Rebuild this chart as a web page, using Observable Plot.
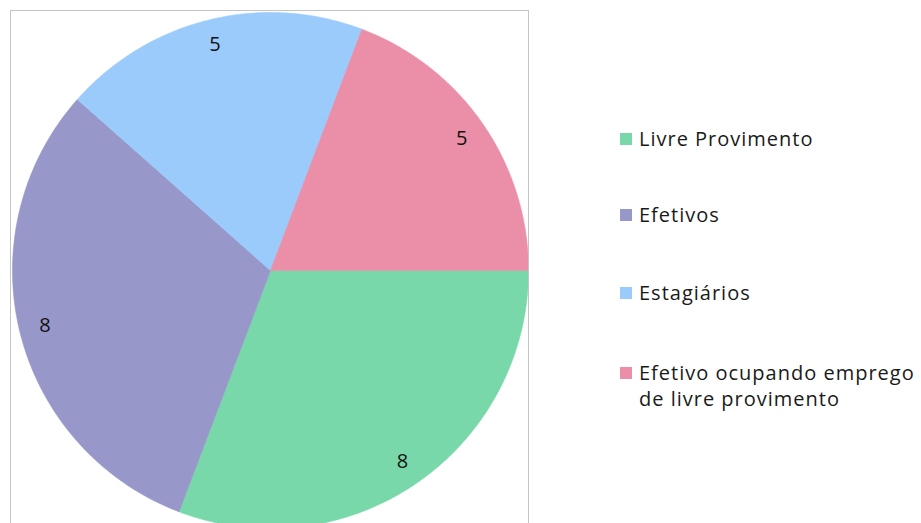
<!DOCTYPE html>
<html>
<head>
<meta charset="utf-8">
<script src="https://cdn.jsdelivr.net/npm/d3@7"></script>
<script src="https://cdn.jsdelivr.net/npm/@observablehq/plot@0.6"></script>
<style>
  html, body { margin: 0; padding: 0; background: #fff; width: 921px; height: 523px; overflow: hidden; }
  #wrap { position: relative; width: 921px; height: 523px; font-family: "Open Sans", sans-serif; }
  #frame { position: absolute; left: 10px; top: 10px; width: 519px; height: 540px; border: 1px solid #c4c4c4; box-sizing: border-box; pointer-events: none; }
  #legend { position: absolute; left: 0; top: 0; }
  .item { position: absolute; left: 620px; display: flex; align-items: flex-start; font-size: 20px; letter-spacing: 1px; color: #1a1a1a; line-height: 26px; white-space: nowrap; }
  .sw { width: 12px; height: 12px; margin-top: 7px; margin-right: 7px; flex: none; }
</style>
</head>
<body>
<div id="wrap"><div id="chart"></div><div id="frame"></div><div id="legend"></div></div>
<script>
// ---- data ----
const categories = ["Livre Provimento", "Efetivos", "Estagiários", "Efetivo ocupando emprego de livre provimento"];
const legendLines = [["Livre Provimento"], ["Efetivos"], ["Estagiários"], ["Efetivo ocupando emprego", "de livre provimento"]];
const values = [8, 8, 5, 5];
const colors = ["#78d8a9", "#9797c9", "#9bcbfb", "#eb8ea7"];

// ---- layout ----
const W = 540, H = 523, CX = 270, CY = 270, R = 258;
const legendTop = [126, 202, 280, 360];

const slices = d3.pie().sort(null).value(d => d.value)
  .startAngle(Math.PI / 2).endAngle(Math.PI / 2 + 2 * Math.PI)
  (categories.map((c, i) => ({cat: c, value: values[i]})));

const rows = [];
for (const s of slices) {
  const n = 120;
  rows.push({cat: s.data.cat, x: 0, y: 0});
  for (let k = 0; k <= n; k++) {
    const a = s.startAngle + (s.endAngle - s.startAngle) * k / n;
    rows.push({cat: s.data.cat, x: Math.sin(a), y: Math.cos(a)});
  }
  rows.push({cat: s.data.cat, x: 0, y: 0});
}
const labels = slices.map(s => {
  const m = (s.startAngle + s.endAngle) / 2;
  return {x: 0.9 * Math.sin(m), y: 0.9 * Math.cos(m), text: String(s.data.value)};
});

const chart = Plot.plot({
  width: W, height: H,
  marginTop: 0, marginRight: 0, marginBottom: 0, marginLeft: 0,
  x: {domain: [-CX / R, (W - CX) / R], axis: null},
  y: {domain: [-(H - CY) / R, CY / R], axis: null},
  color: {domain: categories, range: colors},
  style: {fontFamily: "Open Sans, sans-serif", background: "transparent"},
  marks: [
    Plot.line(rows, {x: "x", y: "y", z: "cat", fill: "cat", stroke: "cat", strokeWidth: 0.6, curve: "linear"}),
    Plot.text(labels, {x: "x", y: "y", text: "text", fontSize: 20, fill: "#111"})
  ]
});
document.getElementById("chart").appendChild(chart);

const leg = document.getElementById("legend");
legendLines.forEach((lines, i) => {
  const it = document.createElement("div");
  it.className = "item";
  it.style.top = legendTop[i] + "px";
  const sw = document.createElement("div");
  sw.className = "sw";
  sw.style.background = colors[i];
  const tx = document.createElement("div");
  tx.innerHTML = lines.join("<br>");
  it.appendChild(sw); it.appendChild(tx);
  leg.appendChild(it);
});
</script>
</body>
</html>
